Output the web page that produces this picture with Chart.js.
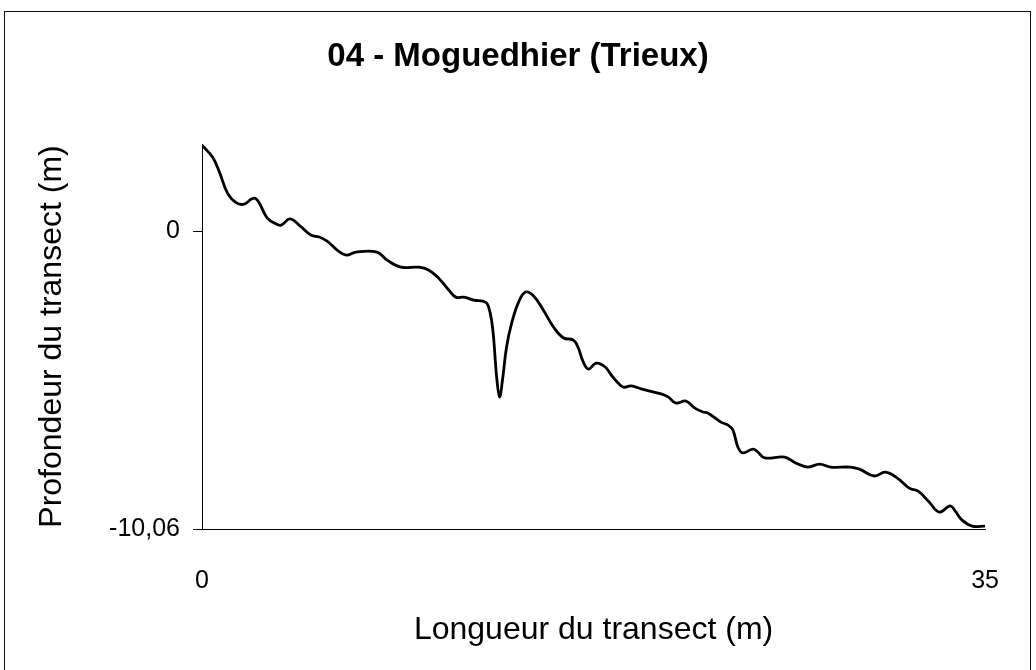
<!DOCTYPE html>
<html>
<head>
<meta charset="utf-8">
<script src="https://cdn.jsdelivr.net/npm/chart.js@4/dist/chart.umd.min.js"></script>
<style>
  html, body { margin: 0; padding: 0; background: #fff; }
  #wrap { position: relative; width: 1036px; height: 670px; overflow: hidden; }
  #frame { position: absolute; left: 4px; top: 11px; width: 1027px; height: 700px; border: 1px solid #111; box-sizing: border-box; }
  canvas { position: absolute; left: 0; top: 0; }
</style>
</head>
<body>
<div id="wrap">
  <div id="frame"></div>
  <canvas id="c" width="1036" height="670"></canvas>
</div>
<script>
// Distance along the transect (m)
const distances = [
  0, 0.47, 0.78, 1.14, 1.54, 1.89, 2.21, 2.38, 2.56, 2.92,
  3.32, 3.54, 3.94, 4.43, 4.88, 5.24, 5.59, 6.04, 6.44, 6.88,
  7.82, 8.27, 8.89, 9.69, 10.14, 10.58, 11.03, 11.34, 11.70, 12.14,
  12.68, 12.81, 12.94, 13.03, 13.17, 13.30, 13.43, 13.61, 13.84, 14.15,
  14.46, 14.82, 15.26, 15.71, 16.16, 16.60, 16.82, 17.04, 17.27, 17.62,
  18.02, 18.29, 18.60, 18.83, 19.18, 19.63, 20.52, 20.83, 21.19, 21.63,
  22.03, 22.39, 22.61, 23.19, 23.51, 23.73, 23.95, 24.17, 24.62, 24.84,
  25.15, 26.04, 26.53, 27.07, 27.60, 28.09, 28.98, 29.38, 30.05, 30.54,
  31.08, 31.61, 32.01, 32.50, 32.95, 33.44, 33.66, 33.97, 34.42, 35.00
];
// Depth of the transect (m)
const depths = [
  2.90, 2.50, 1.99, 1.28, 0.95, 0.91, 1.08, 1.11, 0.95, 0.44,
  0.24, 0.20, 0.41, 0.14, -0.14, -0.20, -0.34, -0.64, -0.81, -0.71,
  -0.71, -0.98, -1.22, -1.22, -1.32, -1.59, -1.99, -2.23, -2.23, -2.33,
  -2.40, -2.57, -3.00, -3.58, -4.93, -5.60, -5.03, -3.92, -3.11, -2.40,
  -2.06, -2.19, -2.67, -3.24, -3.61, -3.68, -3.95, -4.42, -4.66, -4.46,
  -4.59, -4.86, -5.13, -5.27, -5.23, -5.33, -5.50, -5.60, -5.81, -5.74,
  -5.98, -6.11, -6.14, -6.45, -6.55, -6.72, -7.29, -7.49, -7.36, -7.46,
  -7.66, -7.63, -7.83, -7.97, -7.87, -7.97, -7.97, -8.04, -8.27, -8.14,
  -8.34, -8.68, -8.78, -9.15, -9.49, -9.28, -9.45, -9.76, -9.96, -9.96
];
const xTickValues = [0, 35];
const xTickLabels = ['0', '35'];
const yTickValues = [-10.06, 0];
const yTickLabels = ['-10,06', '0'];
const titleText = '04 - Moguedhier (Trieux)';
const xTitle = 'Longueur du transect (m)';
const yTitle = 'Profondeur du transect (m)';

const points = distances.map((d, i) => ({ x: d, y: depths[i] }));
const FONT = "'Liberation Sans', Arial, sans-serif";

new Chart(document.getElementById('c'), {
  type: 'line',
  data: {
    datasets: [{
      data: points,
      borderColor: '#000',
      borderWidth: 2.8,
      pointRadius: 0,
      tension: 0.4,
      fill: false,
      yAxisID: 'y'
    }]
  },
  options: {
    responsive: false,
    animation: false,
    devicePixelRatio: 1,
    layout: { padding: { left: 0, right: 0, top: 0, bottom: 0 } },
    plugins: {
      legend: { display: false },
      tooltip: { enabled: false },
      title: {
        display: true,
        text: titleText,
        color: '#000',
        font: { family: FONT, size: 33, weight: 'bold', lineHeight: 1.2 },
        padding: { top: 37, bottom: 67.4 }
      }
    },
    scales: {
      x: {
        type: 'linear',
        min: 0,
        max: 35,
        afterBuildTicks: (s) => { s.ticks = xTickValues.map(v => ({ value: v })); },
        afterFit: (s) => { s.height = 141; },
        ticks: {
          color: '#000',
          font: { family: FONT, size: 25, lineHeight: 1.2 },
          padding: 37,
          maxRotation: 0,
          autoSkip: false,
          callback: (v) => xTickLabels[xTickValues.indexOf(v)]
        },
        grid: { display: false, drawTicks: false },
        border: { display: true, color: '#000', width: 1 },
        title: {
          display: true,
          text: xTitle,
          color: '#000',
          font: { family: FONT, size: 32, lineHeight: 1.2 },
          padding: { top: 0, bottom: 21 }
        }
      },
      y: {
        type: 'linear',
        position: 'left',
        min: -10.06,
        max: 2.94,
        afterBuildTicks: (s) => { s.ticks = yTickValues.map(v => ({ value: v })); },
        afterFit: (s) => { s.width = 202; },
        ticks: {
          color: '#000',
          font: { family: FONT, size: 25, lineHeight: 1.2 },
          padding: 13,
          autoSkip: false,
          callback: (v) => yTickLabels[yTickValues.indexOf(v)]
        },
        grid: { display: true, drawOnChartArea: false, drawTicks: true, tickLength: 9, color: '#000', lineWidth: 1 },
        border: { display: true, color: '#000', width: 1 },
        title: {
          display: true,
          text: yTitle,
          color: '#000',
          font: { family: FONT, size: 32, lineHeight: 1.2 },
          padding: { top: 33, bottom: 0 }
        }
      },
      yRight: {
        type: 'linear',
        position: 'right',
        display: true,
        min: -10.06,
        max: 2.94,
        afterFit: (s) => { s.width = 48; },
        ticks: { display: false },
        grid: { display: false, drawTicks: false },
        border: { display: false }
      }
    }
  }
});
</script>
</body>
</html>
